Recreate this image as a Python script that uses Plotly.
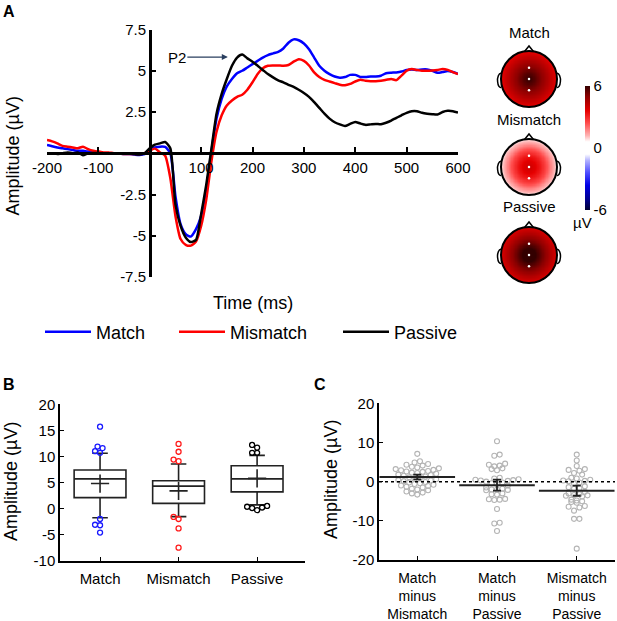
import numpy as np
import plotly.graph_objects as go

W, H = 617, 621
FONT = "Liberation Sans, Arial, sans-serif"


def px(x):
    return x / W


def py(y):
    return 1 - y / H


# ---------------- panel A : ERP waveforms ----------------
time_ms = list(range(-200, 601, 10))
match_uv = [0.5, 0.42, 0.35, 0.3, 0.25, 0.2, 0.15, 0.15, 0.1, 0.05,
            0.05, 0.0, 0.0, 0.0, -0.02, -0.05, -0.05, -0.08, -0.1, -0.05,
            0.2, 0.35, 0.4, 0.38, 0.0, -2.6, -4.3, -4.9, -5.05, -4.6,
            -3.8, -2.2, 0.1, 2.1, 3.3, 4.05, 4.5, 4.85, 5.0, 5.2,
            5.4, 5.6, 5.8, 5.95, 6.05, 6.15, 6.35, 6.7, 6.9, 6.85,
            6.65, 6.3, 5.8, 5.3, 5.0, 4.8, 4.65, 4.58, 4.62, 4.75,
            4.75, 4.62, 4.62, 4.65, 4.65, 4.7, 4.85, 4.88, 4.9, 4.95,
            5.05, 5.08, 5.05, 5.08, 5.08, 5.0, 4.88, 4.92, 4.98, 4.92,
            4.82]
mismatch_uv = [0.8, 0.72, 0.6, 0.45, 0.4, 0.35, 0.3, 0.4, 0.25, 0.15,
               0.1, 0.05, 0.05, 0.0, 0.0, -0.05, -0.05, -0.05, -0.05, 0.0,
               0.15, 0.28, 0.05, -0.15, -1.5, -3.8, -5.2, -5.55, -5.6, -5.35,
               -4.4, -2.8, -0.5, 1.3, 2.3, 2.9, 3.2, 3.42, 3.55, 3.85,
               4.3, 4.8, 5.15, 5.3, 5.32, 5.32, 5.3, 5.35, 5.55, 5.7,
               5.6, 5.32, 4.9, 4.62, 4.45, 4.35, 4.25, 4.15, 4.12, 4.2,
               4.35, 4.45, 4.4, 4.37, 4.37, 4.4, 4.45, 4.5, 4.43, 4.7,
               5.0, 5.1, 5.05, 5.0, 5.0, 5.02, 5.05, 5.1, 5.05, 4.92,
               4.8]
passive_uv = [0.0, 0.0, -0.05, 0.0, 0.05, 0.0, 0.05, -0.12, 0.0, 0.02,
              0.0, 0.0, 0.0, -0.02, 0.0, 0.0, -0.02, -0.05, -0.08, 0.0,
              0.3, 0.52, 0.6, 0.68, 0.3, -3.1, -4.4, -5.1, -5.38, -5.25,
              -3.7, -1.9, 0.25, 2.4, 3.6, 4.5, 5.3, 5.8, 5.98, 5.75,
              5.55, 5.3, 5.05, 4.8, 4.6, 4.42, 4.3, 4.15, 4.02, 3.85,
              3.65, 3.42, 3.1, 2.75, 2.4, 2.1, 1.88, 1.75, 1.65, 1.78,
              1.9, 1.8, 1.72, 1.75, 1.78, 1.76, 1.85, 1.98, 2.15, 2.3,
              2.45, 2.55, 2.55, 2.45, 2.4, 2.37, 2.35, 2.5, 2.57, 2.55,
              2.47]
erp_names = ["Match", "Mismatch", "Passive"]
erp_colors = ["#0000ff", "#ff0000", "#000000"]
erp_x_ticks = [-200, -100, 100, 200, 300, 400, 500, 600]
erp_y_ticks = [-7.5, -5, -2.5, 2.5, 5, 7.5]

# topographies: radial amplitude profile (centre -> edge)
topo_r = [0.0, 0.2, 0.4, 0.6, 0.8, 1.0]
topo_vals = {
    "Match": [6.0, 5.6, 5.1, 4.6, 4.1, 3.6],
    "Mismatch": [4.0, 3.7, 3.2, 2.5, 1.6, 0.8],
    "Passive": [6.5, 6.1, 5.5, 4.9, 4.3, 3.8],
}

# ---------------- panel B : box plots ----------------
box_cats = ["Match", "Mismatch", "Passive"]
box_q1 = [2.1, 1.0, 3.2]
box_med = [5.7, 4.3, 5.7]
box_q3 = [7.4, 5.35, 8.2]
box_low = [-1.75, -1.55, 0.7]
box_high = [10.6, 8.55, 10.2]
box_mean = [4.8, 3.4, 5.8]
box_outliers = [
    [15.7, 11.9, 11.6, 11.0, 10.7, -2.0, -3.1, -3.2, -4.6],
    [12.4, 10.9, 9.4, 9.1, -1.6, -2.0, -3.8, -7.5],
    [12.2, 11.7, 10.7, 10.7, 0.5, 0.2, 0.1, 0.35, -0.3],
]
box_colors = ["#1a1aff", "#ff1a1a", "#000000"]

# ---------------- panel C : difference scores ----------------
diff_cats = ["Match<br>minus<br>Mismatch", "Match<br>minus<br>Passive",
             "Mismatch<br>minus<br>Passive"]
diff_points = [
    [7.1, 5.2, 4.9, 4.5, 4.3, 4.1, 3.8, 3.6, 3.4, 3.2, 3.0, 2.9, 2.7, 2.6,
     2.5, 2.3, 2.2, 2.0, 1.8, 1.7, 1.5, 1.3, 1.1, 0.9, 0.7, 0.6, 0.4, 0.3,
     0.1, -0.1, -0.2, -0.4, -0.6, -0.8, -1.0, -1.1, -1.3, -1.5, -1.8, -2.0,
     -2.2, -2.5, -2.8, -3.0, -3.3],
    [10.3, 6.9, 6.6, 4.6, 4.3, 4.1, 3.9, 3.4, 3.2, 2.9, 1.0, 0.8, 0.6, 0.5,
     0.4, 0.3, 0.2, 0.0, -0.2, -0.4, -0.6, -1.0, -1.5, -1.8, -2.0, -2.0,
     -2.1, -2.2, -3.0, -3.2, -3.3, -4.4, -4.5, -4.6, -4.7, -7.0, -10.5,
     -10.7, -12.6],
    [6.9, 5.4, 4.0, 3.2, 3.0, 2.8, 2.2, 1.8, 1.0, 0.8, 0.5, 0.3, 0.2, 0.1,
     -0.2, -0.5, -1.2, -1.4, -1.6, -1.8, -2.6, -3.0, -3.2, -3.4, -3.5, -3.6,
     -3.8, -4.6, -4.8, -5.0, -5.2, -5.4, -6.2, -6.4, -6.6, -7.4, -9.5, -9.5,
     -17.1],
]
diff_mean = [1.2, -0.9, -2.3]
diff_sem = [0.6, 1.4, 1.3]


def swarm(vals, d, ppu_x, ppu_y):
    # simple greedy beeswarm in pixel space, returns x offsets in data units
    vals = np.asarray(vals, float)
    placed = []
    offs = np.zeros(len(vals))
    cands = [0.0]
    for j in range(1, 30):
        cands += [-j * d / 2, j * d / 2]
    for i in np.argsort(vals):
        yy = vals[i] * ppu_y
        for c in cands:
            if all((c - a) ** 2 + (yy - b) ** 2 >= d * d * 0.95 for a, b in placed):
                break
        placed.append((c, yy))
        offs[i] = c / ppu_x
    return offs


def spread(vals, d, ppu_x, ppu_y):
    # plotSpread-like: bin values into rows, spread each row symmetrically
    vals = np.asarray(vals, float)
    bw = d / ppu_y
    bins = np.floor(vals / bw + 0.5).astype(int)
    offs = np.zeros(len(vals))
    for b in np.unique(bins):
        idx = np.where(bins == b)[0]
        idx = idx[np.argsort(vals[idx])]
        n = len(idx)
        slots = (np.arange(n) - (n - 1) / 2) * d
        order = np.argsort(np.abs(slots), kind="stable")
        for j, i in enumerate(idx):
            offs[i] = slots[order[j]] / ppu_x
    return offs


def note(x, y, text, size=15, **kw):
    fig.add_annotation(x=px(x), y=py(y), xref="paper", yref="paper", text=text,
                       showarrow=False, xanchor="center", yanchor="middle",
                       font=dict(size=size), **kw)


fig = go.Figure()

# ERP lines
for nm, col, yv, lg in zip(erp_names, erp_colors,
                           [match_uv, mismatch_uv, passive_uv],
                           ["legend", "legend2", "legend3"]):
    fig.add_trace(go.Scatter(x=time_ms, y=yv, mode="lines", name=nm,
                             line=dict(color=col, width=2.5, shape="spline", smoothing=0.6),
                             legend=lg, xaxis="x", yaxis="y"))

# topo maps
g = np.linspace(-1, 1, 101)
GX, GY = np.meshgrid(g, g)
R = np.hypot(GX, GY)
head_cy = {"Match": -(79 - 20) / 28, "Mismatch": -(167 - 20) / 28, "Passive": -(255 - 20) / 28}
title_py = {"Match": 32, "Mismatch": 120, "Passive": 207}
for k, nm in enumerate(erp_names):
    cy = head_cy[nm]
    Z = np.interp(R, topo_r, topo_vals[nm])
    Z[R > 1] = np.nan
    fig.add_trace(go.Heatmap(x=g, y=g + cy, z=Z, coloraxis="coloraxis",
                             xaxis="x2", yaxis="y2", hoverinfo="skip", showlegend=False))
    fig.add_trace(go.Scatter(x=[0, 0, 0], y=[cy + 0.4, cy, cy - 0.4], mode="markers",
                             marker=dict(color="white", size=2.5), xaxis="x2", yaxis="y2",
                             showlegend=False, hoverinfo="skip"))
    fig.add_shape(type="circle", xref="x2", yref="y2", x0=-1, x1=1, y0=cy - 1, y1=cy + 1,
                  line=dict(color="black", width=2))
    fig.add_shape(type="path", xref="x2", yref="y2",
                  path=f"M -0.16,{cy + 0.985} L 0,{cy + 1.18} L 0.16,{cy + 0.985}",
                  line=dict(color="black", width=1.5))
    for s in (-1, 1):
        fig.add_shape(type="path", xref="x2", yref="y2",
                      path=(f"M {s * 0.985},{cy + 0.2} C {s * 1.08},{cy + 0.22} {s * 1.14},{cy + 0.05} "
                            f"{s * 1.12},{cy - 0.1} C {s * 1.11},{cy - 0.25} {s * 1.05},{cy - 0.32} "
                            f"{s * 0.99},{cy - 0.3}"),
                      line=dict(color="black", width=1.5))
    note(529, title_py[nm], nm, 15)

# box plots
cat_x = [1, 2, 3]
fig.add_trace(go.Box(x=cat_x, q1=box_q1, median=box_med, q3=box_q3,
                     lowerfence=box_low, upperfence=box_high, width=0.66,
                     whiskerwidth=0.3, fillcolor="white", boxpoints=False,
                     line=dict(color="#222222", width=1.6), xaxis="x3", yaxis="y3",
                     showlegend=False, hoverinfo="skip"))
fig.add_trace(go.Scatter(x=cat_x, y=box_mean, mode="markers", xaxis="x3", yaxis="y3",
                         marker=dict(symbol="cross-thin", size=13,
                                     line=dict(color="#222222", width=1.6)),
                         showlegend=False))
for k in range(3):
    off = swarm(box_outliers[k], 5.0, 78.5, 5.21)
    fig.add_trace(go.Scatter(x=cat_x[k] + off, y=box_outliers[k], mode="markers",
                             xaxis="x3", yaxis="y3", showlegend=False,
                             marker=dict(symbol="circle-open", size=5,
                                         line=dict(color=box_colors[k], width=1.3),
                                         color=box_colors[k])))

# difference scores
for k in range(3):
    off = spread(diff_points[k], 5.4, 79.7, 3.925)
    fig.add_trace(go.Scatter(x=cat_x[k] + off, y=diff_points[k], mode="markers",
                             xaxis="x4", yaxis="y4", showlegend=False,
                             marker=dict(symbol="circle-open", size=5, color="#b4b4b4",
                                         line=dict(color="#b4b4b4", width=1.1))))
fig.add_shape(type="line", xref="x4", yref="y4", x0=0.52, x1=3.48, y0=0, y1=0,
              line=dict(color="black", width=1.5, dash="dot"))
fig.add_trace(go.Scatter(x=cat_x, y=diff_mean, mode="markers", xaxis="x4", yaxis="y4",
                         showlegend=False,
                         marker=dict(symbol="line-ew", size=54, color="#222222",
                                     line=dict(color="#222222", width=2)),
                         error_y=dict(type="data", array=diff_sem, width=4,
                                      thickness=1.8, color="#222222")))

# P2 label
fig.add_annotation(x=152, y=5.83, xref="x", yref="y", text="P2", showarrow=True,
                   ax=-51, ay=0, arrowhead=2, arrowsize=1, arrowwidth=1.2,
                   font=dict(size=15))

# axis titles and panel letters
for (xx, yy) in [(12.5, 156), (11, 482), (331, 480)]:
    note(xx, yy, "Amplitude (µV)", 18, textangle=-90)
note(253, 303, "Time (ms)", 18)
note(582, 222, "µV", 15)
for lt, xx, yy in [("A", 9, 12), ("B", 9, 384), ("C", 319.5, 384)]:
    note(xx, yy, f"<b>{lt}</b>", 16)

ax_common = dict(showgrid=False, zeroline=False, showline=True, linecolor="black",
                 ticks="inside", tickcolor="black", tickfont=dict(size=15))

cs = [[0.0, "#000033"], [0.083, "#00008c"], [0.2, "#0000e6"], [0.3, "#4d4dff"],
      [0.4, "#b3b3ff"], [0.45, "#ffffff"], [0.55, "#ffffff"], [0.6, "#ffb3b3"],
      [0.7, "#ff4d4d"], [0.8, "#e60000"], [0.917, "#8c0000"], [1.0, "#330000"]]

leg = dict(orientation="h", yanchor="middle", xanchor="left", y=py(332),
           font=dict(size=18), bgcolor="rgba(0,0,0,0)", itemwidth=46)

fig.update_layout(
    width=W, height=H, margin=dict(l=0, r=0, t=0, b=0, autoexpand=False),
    paper_bgcolor="white", plot_bgcolor="white",
    font=dict(family=FONT, color="black"),
    xaxis=dict(**ax_common, domain=[px(47), px(458)], range=[-200, 600], anchor="free",
               position=0.7533, linewidth=2.5, tickwidth=2, ticklen=5,
               tickvals=erp_x_ticks, ticktext=[str(v) for v in erp_x_ticks]),
    yaxis=dict(**ax_common, domain=[py(277), py(29.5)], range=[-7.5, 7.5], anchor="free",
               position=0.2427, linewidth=2.5, tickwidth=2, ticklen=5,
               tickvals=erp_y_ticks, ticktext=["-7.5", "-5", "-2.5", "2.5", "5", "7.5"]),
    xaxis2=dict(domain=[px(487), px(571)], range=[-1.5, 1.5], visible=False, anchor="y2"),
    yaxis2=dict(domain=[py(290), py(20)], range=[-270 / 28, 0], visible=False, anchor="x2"),
    xaxis3=dict(**ax_common, domain=[px(60), px(305)], range=[0.49, 3.61], anchor="y3",
                linewidth=1.5, ticklen=4, tickvals=cat_x, ticktext=box_cats,
                ticklabelstandoff=4),
    yaxis3=dict(**ax_common, domain=[py(560.7), py(404.3)], range=[-10, 20], anchor="x3",
                linewidth=1.5, ticklen=4, tickvals=[-10, -5, 0, 5, 10, 15, 20],
                ticktext=["-10", "-5", "0", "5", "10", "15", "20"]),
    xaxis4=dict(**ax_common, domain=[px(379), px(615)], range=[0.52, 3.48], anchor="y4",
                linewidth=1.5, ticklen=4, tickvals=cat_x, ticktext=diff_cats),
    yaxis4=dict(**ax_common, domain=[py(560), py(403.3)], range=[-20, 20], anchor="x4",
                linewidth=1.5, ticklen=4, tickvals=[-20, -10, 0, 10, 20],
                ticktext=["-20", "-10", "0", "10", "20"]),
    coloraxis=dict(colorscale=cs, cmin=-6, cmax=6,
                   colorbar=dict(x=px(585), xanchor="left", y=py(148), yanchor="middle",
                                 len=124, lenmode="pixels", thickness=5, outlinewidth=0,
                                 ypad=0, xpad=0,
                                 tickvals=[-6, 0, 6], ticktext=["-6", "0", "6"], ticks="",
                                 tickfont=dict(size=15))),
    legend=dict(leg, x=px(40)),
    legend2=dict(leg, x=px(174)),
    legend3=dict(leg, x=px(338)),
)
fig.update_xaxes(selector=dict(anchor="y4"), tickfont=dict(size=14), ticklabelstandoff=4)

fig.write_html("out.html", post_script="document.body.style.margin='0';",
               config={"displayModeBar": False})
